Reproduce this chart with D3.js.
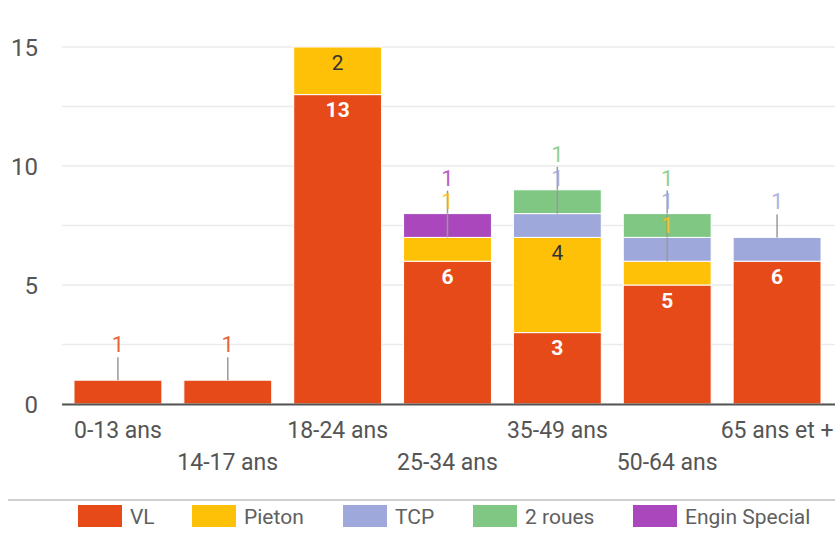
<!DOCTYPE html>
<html>
<head>
<meta charset="utf-8">
<script src="https://cdn.jsdelivr.net/npm/d3@7"></script>
<style>
  body { margin: 0; background: #fff; }
  svg text { font-family: Roboto, "Noto Sans", sans-serif; }
</style>
</head>
<body>
<svg id="chart" width="835" height="541"></svg>
<script>
let categories = ['0-13 ans', '14-17 ans', '18-24 ans', '25-34 ans', '35-49 ans', '50-64 ans', '65 ans et +'];
let seriesNames = ['VL', 'Pieton', 'TCP', '2 roues', 'Engin Special'];
let seriesColors = ['#e64a19', '#ffc107', '#9fa8da', '#81c784', '#ab47bc'];
let vl = [1, 1, 13, 6, 3, 5, 6];
let pieton = [0, 0, 2, 1, 4, 1, 0];
let tcp = [0, 0, 0, 0, 1, 1, 1];
let deuxRoues = [0, 0, 0, 0, 1, 1, 0];
let enginSpecial = [0, 0, 0, 1, 0, 0, 0];
let yTicks = [0, 5, 10, 15];

let svg = d3.select('#chart');
let width = +svg.attr('width');

let table = categories.map((c, i) => ({
  cat: c,
  'VL': vl[i], 'Pieton': pieton[i], 'TCP': tcp[i],
  '2 roues': deuxRoues[i], 'Engin Special': enginSpecial[i]
}));

let sx = d3.scaleBand()
  .domain(categories)
  .range([63, 832])
  .paddingInner(0.2)
  .paddingOuter(0.1);

let sy = d3.scaleLinear()
  .domain([0, 15])
  .range([404, 47]);

let color = d3.scaleOrdinal().domain(seriesNames).range(seriesColors);

// gridlines (major + minor)
let grid = d3.range(0, 15.01, 2.5);
svg.selectAll('.grid')
  .data(grid)
  .enter()
  .append('line')
  .attr('class', 'grid')
  .attr('x1', 62)
  .attr('x2', width)
  .attr('y1', d => sy(d))
  .attr('y2', d => sy(d))
  .attr('stroke', '#ebebeb')
  .attr('stroke-width', 1.5);

// y tick labels
svg.selectAll('.ytick')
  .data(yTicks)
  .enter()
  .append('text')
  .attr('class', 'ytick')
  .attr('x', 38)
  .attr('y', d => sy(d))
  .attr('dy', '0.36em')
  .attr('text-anchor', 'end')
  .attr('font-size', 24)
  .attr('fill', '#555')
  .text(d => d);

let stack = d3.stack().keys(seriesNames)(table);

let layers = svg.selectAll('.layer')
  .data(stack)
  .enter()
  .append('g')
  .attr('class', 'layer')
  .attr('fill', d => color(d.key));

layers.selectAll('rect')
  .data(d => d.filter(s => s[1] - s[0] > 0))
  .enter()
  .append('rect')
  .attr('x', d => sx(d.data.cat))
  .attr('width', sx.bandwidth())
  .attr('y', d => sy(d[1]))
  .attr('height', d => sy(d[0]) - sy(d[1]))
  .attr('stroke', '#fff')
  .attr('stroke-width', 1);

// baseline
svg.append('line')
  .attr('x1', 62)
  .attr('x2', width)
  .attr('y1', sy(0) + 0.5)
  .attr('y2', sy(0) + 0.5)
  .attr('stroke', '#555')
  .attr('stroke-width', 2);

// annotations: big segments inside, small ones above with a leader line
let notes = [];
stack.forEach(layer => {
  layer.forEach(s => {
    let v = s[1] - s[0];
    if (v > 0) notes.push({ key: layer.key, v: v, s: s, cat: s.data.cat });
  });
});

let inside = notes.filter(n => n.v >= 2);
let outside = notes.filter(n => n.v < 2);

svg.selectAll('.leader')
  .data(outside)
  .enter()
  .append('line')
  .attr('class', 'leader')
  .attr('x1', d => sx(d.cat) + sx.bandwidth() / 2)
  .attr('x2', d => sx(d.cat) + sx.bandwidth() / 2)
  .attr('y1', d => sy(d.s[1]))
  .attr('y2', d => sy(d.s[1]) - 23)
  .attr('stroke', '#999')
  .attr('stroke-width', 1.5);

svg.selectAll('.outlabel')
  .data(outside)
  .enter()
  .append('text')
  .attr('class', 'outlabel')
  .attr('x', d => sx(d.cat) + sx.bandwidth() / 2)
  .attr('y', d => sy(d.s[1]) - 36)
  .attr('dy', '0.36em')
  .attr('text-anchor', 'middle')
  .attr('font-size', 22)
  .attr('fill', d => color(d.key))
  .attr('opacity', 0.85)
  .text(d => d.v);

svg.selectAll('.inlabel')
  .data(inside)
  .enter()
  .append('text')
  .attr('class', 'inlabel')
  .attr('x', d => sx(d.cat) + sx.bandwidth() / 2)
  .attr('y', d => sy(d.s[1]) + 15)
  .attr('dy', '0.36em')
  .attr('text-anchor', 'middle')
  .attr('font-size', 21)
  .attr('font-weight', d => d.key === 'VL' ? 'bold' : 'normal')
  .attr('fill', d => d.key === 'VL' ? '#fff' : '#333')
  .text(d => d.v);

// x labels, alternating rows
svg.selectAll('.xlabel')
  .data(categories)
  .enter()
  .append('text')
  .attr('class', 'xlabel')
  .attr('x', d => sx(d) + sx.bandwidth() / 2)
  .attr('y', (d, i) => i % 2 === 0 ? 430 : 462)
  .attr('dy', '0.36em')
  .attr('text-anchor', 'middle')
  .attr('font-size', 23)
  .attr('fill', '#555')
  .text(d => d);

// legend
svg.append('line')
  .attr('x1', 8)
  .attr('x2', width)
  .attr('y1', 500)
  .attr('y2', 500)
  .attr('stroke', '#d0d0d0')
  .attr('stroke-width', 2);

let legendX = [78, 192, 343, 473, 633];
let legend = svg.selectAll('.legend')
  .data(seriesNames)
  .enter()
  .append('g')
  .attr('class', 'legend')
  .attr('transform', (d, i) => `translate(${legendX[i]},505)`);

legend.append('rect')
  .attr('width', 44)
  .attr('height', 22)
  .attr('fill', d => color(d));

legend.append('text')
  .attr('x', 52)
  .attr('y', 11)
  .attr('dy', '0.36em')
  .attr('font-size', 21)
  .attr('fill', '#606060')
  .text(d => d);
</script>
</body>
</html>
